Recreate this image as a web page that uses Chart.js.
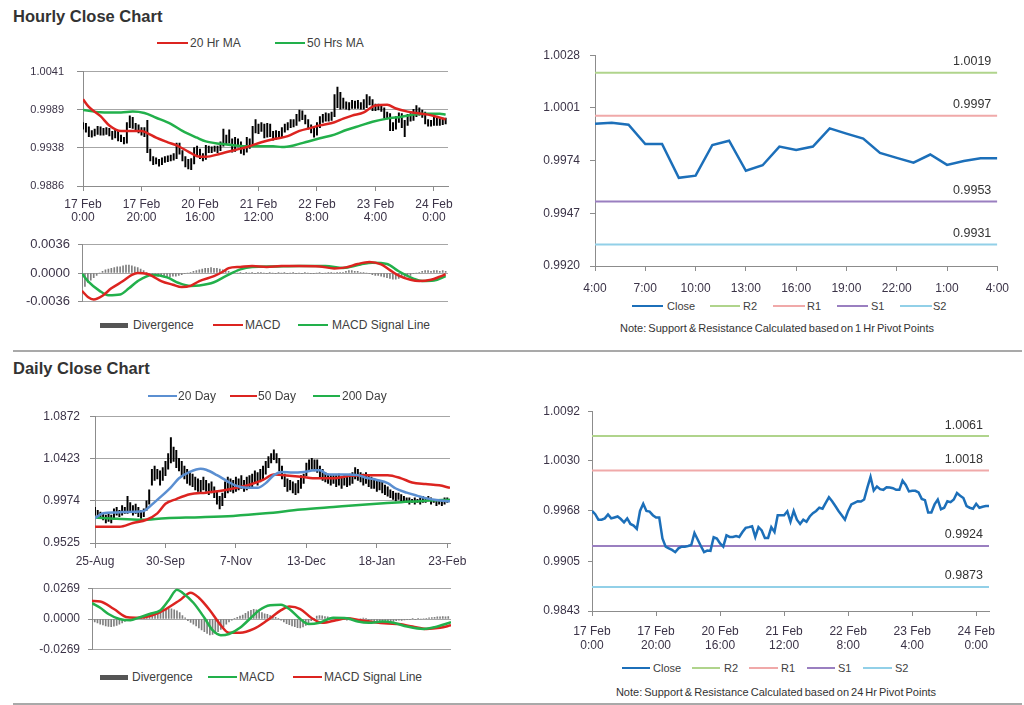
<!DOCTYPE html>
<html><head><meta charset="utf-8">
<script src="https://cdn.jsdelivr.net/npm/chart.js@4.4.1/dist/chart.umd.min.js"></script>
<style>
body{margin:0;background:#fff;width:1024px;height:705px;overflow:hidden;position:relative;font-family:"Liberation Sans",Arial,sans-serif;color:#333}
.title{position:absolute;left:13px;font-weight:bold;font-size:16.5px;line-height:20px;color:#333;white-space:nowrap}
.sep{position:absolute;left:13px;width:1009px;height:2px;background:#a9a9a9}
.note{position:absolute;font-size:11px;line-height:14px;color:#333;white-space:nowrap;word-spacing:-1px;transform:translateX(-50%)}
</style></head><body>
<div class="title" style="top:6px">Hourly Close Chart</div>
<div class="sep" style="top:350px"></div>
<div class="title" style="top:358px">Daily Close Chart</div>
<div class="sep" style="top:703px"></div>
<div class="note" style="left:777px;top:321px">Note: Support &amp; Resistance Calculated based on 1 Hr Pivot Points</div>
<div class="note" style="left:776px;top:685px">Note: Support &amp; Resistance Calculated based on 24 Hr Pivot Points</div>
<script>
// ---------------- DATA ----------------
const hourTickLabels = [["17 Feb","0:00"],["17 Feb","20:00"],["20 Feb","16:00"],["21 Feb","12:00"],["22 Feb","8:00"],["23 Feb","4:00"],["24 Feb","0:00"]];
const hourTickIdx = [0,20,40,60,80,100,120];
const dayTickLabels = ["25-Aug","30-Sep","7-Nov","13-Dec","18-Jan","23-Feb"];
const dayTickIdx = [0,26,52,78,104,130];
const last24Labels = ["4:00","7:00","10:00","13:00","16:00","19:00","22:00","1:00","4:00"];
const last24TickIdx = [0,3,6,9,12,15,18,21,24];

const hourPriceTicks = ["0.9886","0.9938","0.9989","1.0041"];
const hourMacdTicks = ["-0.0036","0.0000","0.0036"];
const last24Ticks = ["0.9920","0.9947","0.9974","1.0001","1.0028"];
const dayPriceTicks = ["0.9525","0.9974","1.0423","1.0872"];
const dayMacdTicks = ["-0.0269","0.0000","0.0269"];
const hourCloseTicks = ["0.9843","0.9905","0.9968","1.0030","1.0092"];

const pivotNames = ["R2","R1","S1","S2"];
const hourPivots = [1.0019,0.9997,0.9953,0.9931];
const dayPivots = [1.0061,1.0018,0.9924,0.9873];

const last24Close = [0.99929,0.99934,0.99924,0.99825,0.99825,0.99652,0.99663,0.99820,0.99842,0.99688,0.99716,0.99812,0.99794,0.99812,0.99905,0.99878,0.99853,0.99779,0.99754,0.99729,0.99771,0.99718,0.99738,0.99752,0.99752];

const hourlyClose = [0.99677,0.99636,0.99568,0.99568,0.99584,0.99632,0.99584,0.99596,0.99608,0.99576,
 0.99535,0.99584,0.99515,0.99495,0.99454,0.99677,0.99766,0.99677,0.99669,0.99624,
 0.99596,0.99596,0.99333,0.99232,0.99211,0.99191,0.99163,0.99211,0.99232,0.99232,
 0.99240,0.99252,0.99402,0.99321,0.99240,0.99163,0.99183,0.99179,0.99349,0.99333,
 0.99272,0.99232,0.99373,0.99353,0.99353,0.99365,0.99353,0.99414,0.99466,0.99475,
 0.99487,0.99353,0.99475,0.99434,0.99341,0.99341,0.99475,0.99414,0.99624,0.99624,
 0.99624,0.99673,0.99543,0.99677,0.99568,0.99515,0.99568,0.99543,0.99608,0.99649,
 0.99677,0.99717,0.99705,0.99778,0.99847,0.99798,0.99738,0.99677,0.99624,0.99568,
 0.99677,0.99758,0.99778,0.99798,0.99794,0.99819,0.99968,1.00102,0.99932,0.99981,
 0.99948,0.99940,0.99973,0.99968,0.99960,0.99940,0.99940,1.00054,1.00001,0.99920,
 0.99928,0.99928,0.99908,0.99827,0.99811,0.99657,0.99657,0.99758,0.99819,0.99697,
 0.99717,0.99798,0.99786,0.99819,0.99900,0.99867,0.99839,0.99738,0.99717,0.99705,
 0.99766,0.99717,0.99730,0.99738,0.99738];
const hourlyLow = [0.9963,0.9959,0.9953,0.9952,0.9954,0.9956,0.9955,0.9955,0.9956,0.9954,
 0.9949,0.9951,0.9947,0.9946,0.9943,0.9944,0.9965,0.9964,0.9962,0.9958,
 0.9955,0.9953,0.9931,0.9920,0.9915,0.9916,0.9913,0.9915,0.9918,0.9919,
 0.9920,0.9921,0.9923,0.9929,0.9920,0.9912,0.9909,0.9908,0.9916,0.9928,
 0.9923,0.9920,0.9922,0.9931,0.9931,0.9933,0.9931,0.9934,0.9940,0.9943,
 0.9944,0.9932,0.9933,0.9939,0.9930,0.9928,0.9932,0.9937,0.9940,0.9958,
 0.9957,0.9960,0.9951,0.9952,0.9953,0.9948,0.9949,0.9950,0.9952,0.9959,
 0.9962,0.9965,0.9966,0.9968,0.9974,0.9976,0.9970,0.9963,0.9958,0.9952,
 0.9955,0.9965,0.9972,0.9974,0.9974,0.9975,0.9980,0.9992,0.9990,0.9991,
 0.9990,0.9989,0.9991,0.9991,0.9991,0.9990,0.9990,0.9992,0.9996,0.9988,
 0.9988,0.9989,0.9987,0.9978,0.9977,0.9961,0.9961,0.9963,0.9972,0.9965,
 0.9953,0.9968,0.9974,0.9975,0.9980,0.9982,0.9979,0.9970,0.9967,0.9967,
 0.9968,0.9968,0.9968,0.9969,0.9970];
const hourlyHigh = [0.9972,0.9971,0.9966,0.9961,0.9963,0.9967,0.9966,0.9964,0.9965,0.9964,
 0.9960,0.9962,0.9961,0.9955,0.9952,0.9972,0.9981,0.9979,0.9971,0.9969,
 0.9965,0.9965,0.9975,0.9936,0.9926,0.9924,0.9922,0.9924,0.9926,0.9927,
 0.9928,0.9930,0.9944,0.9944,0.9934,0.9926,0.9922,0.9923,0.9938,0.9940,
 0.9936,0.9930,0.9941,0.9940,0.9939,0.9940,0.9940,0.9946,0.9963,0.9955,
 0.9962,0.9950,0.9952,0.9950,0.9946,0.9939,0.9952,0.9950,0.9967,0.9976,
 0.9970,0.9972,0.9970,0.9971,0.9970,0.9960,0.9961,0.9960,0.9965,0.9970,
 0.9972,0.9976,0.9976,0.9983,0.9989,0.9988,0.9982,0.9976,0.9969,0.9964,
 0.9972,0.9980,0.9983,0.9985,0.9984,0.9986,1.0010,1.0020,1.0013,1.0005,
 1.0000,0.9999,1.0002,1.0001,1.0002,0.9999,1.0003,1.0010,1.0007,1.0003,
 0.9997,0.9997,0.9996,0.9992,0.9986,0.9984,0.9972,0.9980,0.9985,0.9984,
 0.9975,0.9983,0.9984,0.9990,0.9995,0.9992,0.9989,0.9986,0.9976,0.9975,
 0.9980,0.9978,0.9977,0.9978,0.9978];

const hourMA20Idx = [0,2,6,9,13,15,20,22,25,29,32,36,39,42,47,52,56,61,65,70,74,78,81,86,89,92,96,98,100,104,107,111,114,118,121,124];
const hourMA20 = [1.00035,0.99931,0.99806,0.99681,0.99606,0.99606,0.99606,0.99577,0.99514,0.99452,0.99410,0.99327,0.99264,0.99256,0.99298,0.99348,0.99389,0.99452,0.99493,0.99535,0.99606,0.99648,0.99681,0.99723,0.99773,0.99814,0.99856,0.99910,0.99952,0.99960,0.99910,0.99868,0.99848,0.99827,0.99798,0.99764];
const hourMA50Idx = [0,6,13,17,21,25,30,34,39,42,47,52,56,61,65,68,72,77,81,86,90,95,99,104,109,113,118,122,124];
const hourMA50 = [0.99889,0.99860,0.99856,0.99868,0.99848,0.99785,0.99702,0.99606,0.99514,0.99464,0.99431,0.99410,0.99398,0.99398,0.99398,0.99389,0.99410,0.99464,0.99506,0.99556,0.99619,0.99681,0.99731,0.99773,0.99798,0.99827,0.99839,0.99839,0.99827];

const hourMacdIdx = [0,2,4,7,10,14,17,19,22,24,27,31,34,37,40,45,48,50,54,58,63,68,74,81,86,90,94,98,102,105,108,112,115,119,122,124];
const hourMacd = [-0.00228,-0.00305,-0.00337,-0.0029,-0.00196,-0.00103,-0.00025,0.0,-0.0001,-0.0004,-0.00103,-0.0015,-0.0018,-0.00165,-0.00103,-0.0004,0.00016,0.00062,0.00078,0.0009,0.00078,0.0009,0.0009,0.00084,0.00059,0.00072,0.00115,0.0014,0.00109,0.00037,-0.00034,-0.00087,-0.00103,-0.00087,-0.00047,-0.00016];
const hourSignalIdx = [0,2,6,9,13,16,19,24,29,33,37,40,45,49,54,58,65,74,83,89,95,99,104,108,113,116,120,124];
const hourSignal = [-0.0001,-0.00103,-0.00228,-0.00284,-0.00274,-0.00196,-0.00103,-0.00025,-0.00056,-0.00128,-0.00165,-0.00159,-0.00118,-0.0004,0.00047,0.00078,0.00084,0.0009,0.0009,0.00065,0.00109,0.00131,0.00115,0.00022,-0.00072,-0.00103,-0.00097,-0.0004];
const hourDivergence = [-0.0019,-0.0017,-0.0012,-0.0009,-0.0006,-0.0003,0.0000,0.0002,0.0004,0.0005,
 0.0006,0.0007,0.0008,0.0008,0.0009,0.0010,0.0010,0.0009,0.0008,0.0007,
 0.0005,0.0003,0.0001,-0.0001,-0.0002,-0.0003,-0.0004,-0.0004,-0.0005,-0.0005,
 -0.0005,-0.0004,-0.0004,-0.0003,-0.0002,-0.0001,0.0000,0.0001,0.0002,0.0003,
 0.0004,0.0005,0.0006,0.0006,0.0007,0.0006,0.0006,0.0005,0.0004,0.0003,
 0.0002,0.0001,0.0001,0.0000,0.0001,-0.0001,0.0001,0.0000,0.0001,-0.0001,
 0.0001,0.0001,0.0000,-0.0001,0.0001,0.0000,-0.0001,0.0001,0.0000,0.0001,
 -0.0001,0.0000,0.0001,-0.0001,0.0000,-0.0001,0.0001,0.0000,-0.0001,-0.0001,
 0.0000,0.0001,-0.0001,0.0000,0.0001,0.0001,0.0000,0.0001,0.0001,0.0001,
 0.0002,0.0003,0.0003,0.0002,0.0002,0.0001,0.0001,0.0000,-0.0001,-0.0002,
 -0.0003,-0.0003,-0.0004,-0.0005,-0.0006,-0.0007,-0.0008,-0.0008,-0.0007,-0.0006,
 -0.0005,-0.0004,-0.0003,-0.0001,0.0000,0.0001,0.0002,0.0003,0.0003,0.0002,
 0.0003,0.0003,0.0002,0.0003,0.0002];

const dailyLow = [0.9821,0.9804,0.9787,0.9771,0.9737,0.9754,0.9737,0.9787,0.9821,0.9804,
 0.9821,0.9838,0.9838,0.9854,0.9821,0.9838,0.9804,0.9787,0.9804,0.9871,
 0.9938,1.0140,1.0190,1.0207,1.0140,1.0190,1.0241,1.0308,1.0375,1.0392,
 1.0325,1.0291,1.0241,1.0207,1.0157,1.0140,1.0123,1.0090,1.0073,1.0056,
 1.0090,1.0073,1.0039,1.0056,1.0006,0.9938,0.9888,0.9922,1.0006,1.0056,
 1.0073,1.0056,1.0073,1.0090,1.0106,1.0073,1.0090,1.0106,1.0123,1.0157,
 1.0140,1.0174,1.0207,1.0257,1.0325,1.0375,1.0409,1.0375,1.0291,1.0207,
 1.0123,1.0073,1.0090,1.0056,1.0039,1.0056,1.0106,1.0157,1.0241,1.0291,
 1.0308,1.0291,1.0274,1.0224,1.0190,1.0174,1.0157,1.0140,1.0157,1.0123,
 1.0140,1.0106,1.0140,1.0123,1.0140,1.0157,1.0207,1.0190,1.0174,1.0140,
 1.0157,1.0123,1.0106,1.0106,1.0073,1.0090,1.0056,1.0039,1.0022,1.0006,
 0.9989,0.9972,0.9989,0.9972,0.9955,0.9955,0.9938,0.9955,0.9938,0.9955,
 0.9938,0.9955,0.9955,0.9972,0.9938,0.9955,0.9922,0.9938,0.9922,0.9938,
 0.9955];
const dailyHigh = [0.9905,0.9871,0.9854,0.9838,0.9821,0.9838,0.9821,0.9888,0.9905,0.9871,
 0.9922,0.9905,1.0022,0.9955,0.9922,0.9938,0.9905,0.9871,0.9888,0.9972,
 1.0090,1.0308,1.0341,1.0308,1.0291,1.0325,1.0392,1.0476,1.0644,1.0543,
 1.0509,1.0425,1.0392,1.0341,1.0308,1.0274,1.0257,1.0224,1.0207,1.0190,
 1.0224,1.0190,1.0157,1.0174,1.0123,1.0073,1.0022,1.0056,1.0174,1.0224,
 1.0207,1.0190,1.0224,1.0207,1.0241,1.0190,1.0224,1.0241,1.0257,1.0291,
 1.0274,1.0308,1.0341,1.0392,1.0442,1.0476,1.0516,1.0476,1.0425,1.0341,
 1.0257,1.0207,1.0190,1.0174,1.0157,1.0190,1.0241,1.0257,1.0375,1.0409,
 1.0425,1.0409,1.0409,1.0341,1.0308,1.0274,1.0257,1.0241,1.0241,1.0241,
 1.0257,1.0224,1.0241,1.0224,1.0257,1.0274,1.0325,1.0308,1.0274,1.0257,
 1.0274,1.0241,1.0224,1.0207,1.0190,1.0190,1.0174,1.0140,1.0123,1.0090,
 1.0073,1.0056,1.0056,1.0039,1.0022,1.0006,1.0006,0.9989,1.0006,0.9989,
 1.0006,1.0022,1.0006,1.0022,1.0006,0.9989,0.9989,0.9972,0.9989,1.0006,
 1.0006];

const dayMA20Idx = [0,3,8,14,18,20,24,28,31,35,39,41,45,49,52,56,60,63,66,69,73,77,81,83,86,89,93,97,100,104,108,111,115,119,122,126,131];
const dayMA20 = [0.9789,0.9840,0.9850,0.9857,0.9864,0.9908,1.0009,1.0117,1.0212,1.0280,1.0314,1.0303,1.0246,1.0178,1.0134,1.0111,1.0111,1.0161,1.0246,1.0280,1.0273,1.0280,1.0297,1.0297,1.0253,1.0253,1.0253,1.0246,1.0219,1.0195,1.0161,1.0104,1.0060,1.0026,1.0002,0.9982,0.9968];
const dayMA50Idx = [0,9,14,19,23,26,30,35,41,46,51,57,62,66,69,76,82,88,94,100,108,113,117,122,127,131];
const dayMA50 = [0.9698,0.9698,0.9738,0.9772,0.9840,0.9941,0.9992,1.0043,1.0060,1.0077,1.0104,1.0144,1.0195,1.0253,1.0246,1.0229,1.0212,1.0212,1.0239,1.0246,1.0246,1.0212,1.0168,1.0151,1.0138,1.0111];
const dayMA200Idx = [0,8,17,26,39,51,63,76,88,100,113,122,131];
const dayMA200 = [0.9796,0.9782,0.9772,0.9789,0.9799,0.9813,0.9840,0.9880,0.9908,0.9935,0.9958,0.9975,0.9985];

const dayMacdIdx = [0,3,6,10,14,17,21,25,28,31,33,37,41,44,47,50,54,58,61,65,69,72,76,79,83,88,93,97,101,106,110,115,121,125,131];
const dayMacd = [0.0138,0.0098,0.0044,0.0,-0.0011,0.0011,0.0044,0.0077,0.0164,0.0256,0.0230,0.0142,0.0011,-0.0098,-0.0142,-0.0131,-0.0077,0.0011,0.0077,0.0120,0.0125,0.0087,0.0,-0.0044,-0.0033,0.0011,0.0007,-0.0022,-0.0033,-0.0022,-0.0033,-0.0066,-0.0087,-0.0072,-0.0028];
const daySignalIdx = [0,3,8,13,17,22,27,32,36,39,43,47,50,54,59,64,69,72,76,80,84,89,93,98,103,108,112,117,122,127,131];
const daySignal = [0.0157,0.0153,0.0087,0.0015,0.0011,0.0033,0.0087,0.0164,0.0230,0.0186,0.0077,-0.0055,-0.0120,-0.0120,-0.0087,-0.0011,0.0077,0.0109,0.0087,0.0011,-0.0033,-0.0011,0.0007,-0.0011,-0.0028,-0.0039,-0.0044,-0.0066,-0.0087,-0.0077,-0.0055];
const dayDivergence = [-0.0010,-0.0025,-0.0035,-0.0045,-0.0052,-0.0060,-0.0064,-0.0066,-0.0062,-0.0055,
 -0.0045,-0.0035,-0.0022,-0.0010,-0.0004,0.0003,0.0008,0.0012,0.0018,0.0022,
 0.0028,0.0030,0.0035,0.0040,0.0048,0.0055,0.0065,0.0078,0.0090,0.0088,
 0.0080,0.0072,0.0055,0.0030,0.0010,-0.0015,-0.0030,-0.0045,-0.0060,-0.0078,
 -0.0095,-0.0110,-0.0125,-0.0140,-0.0135,-0.0125,-0.0110,-0.0090,-0.0070,-0.0045,
 -0.0025,-0.0010,0.0005,0.0015,0.0025,0.0035,0.0050,0.0065,0.0075,0.0085,
 0.0080,0.0065,0.0055,0.0045,0.0040,0.0030,0.0025,0.0015,0.0005,-0.0010,
 -0.0025,-0.0040,-0.0050,-0.0060,-0.0068,-0.0075,-0.0077,-0.0070,-0.0055,-0.0035,
 -0.0015,0.0005,0.0025,0.0030,0.0028,0.0022,0.0018,0.0012,0.0008,0.0005,
 0.0002,-0.0003,-0.0006,-0.0010,-0.0008,-0.0012,-0.0010,-0.0006,0.0004,0.0008,
 0.0003,-0.0005,-0.0010,-0.0015,-0.0020,-0.0022,-0.0018,-0.0015,-0.0020,-0.0025,
 -0.0022,-0.0015,-0.0010,-0.0012,-0.0008,-0.0005,-0.0003,0.0002,-0.0002,0.0003,
 0.0000,0.0004,0.0006,0.0010,0.0012,0.0015,0.0018,0.0020,0.0022,0.0020,
 0.0022];

// ---------------- STYLE / HELPERS ----------------
const FONT = '"Liberation Sans", Arial, sans-serif';
const TICK_COLOR = '#3b3347', AXIS = '#8c8c8c', GRID = '#a6a6a6';
const RED = '#dc2420', GREEN = '#22b04b', BLUE = '#5b8fd1', CLOSE = '#1c6fb9', DIV = '#7f7f7f';
const PIV_COLORS = ['#b0d48c','#f0a9a9','#9a7fc0','#92d0e8'];

function yAxis(labels, yw, size, gridOn, tickLen, pad) {
  const vals = labels.map(parseFloat);
  return { type:'linear', bounds:'data', min: vals[0], max: vals[vals.length-1],
    afterBuildTicks: s => { s.ticks = vals.map(v => ({value: v})); },
    afterFit: s => { s.width = yw; },
    ticks: { callback: (v, i) => labels[i], color: TICK_COLOR, font: {family: FONT, size}, padding: pad, autoSkip: false },
    grid: { drawOnChartArea: gridOn, color: GRID, lineWidth: 1, drawTicks: true, tickLength: tickLen, tickColor: AXIS },
    border: { display: true, color: AXIS, width: 1 } };
}
function xAxis(idx, labels, max, xh, size, pad, lh) {
  return { type:'linear', bounds:'data', min: 0, max, offset: false,
    afterBuildTicks: s => { s.ticks = idx.map(v => ({value: v})); },
    afterFit: s => { s.height = xh; },
    ticks: { callback: (v, i) => labels[i], color: TICK_COLOR, font: {family: FONT, size, lineHeight: lh}, padding: pad, autoSkip: false, maxRotation: 0, minRotation: 0 },
    grid: { offset: false, drawOnChartArea: false, drawTicks: true, tickLength: 5, tickColor: AXIS, color: AXIS },
    border: { display: true, color: AXIS, width: 1 } };
}
function hiddenX(max) { return { type:'linear', bounds:'data', min: 0, max, offset: false, display: false, grid: {offset: false} }; }

function mk(plot, yw, padTop, xh, padRight, noX, type, datasets, scales, plugins) {
  const c = document.createElement('canvas');
  const w = yw + plot.r - plot.l + padRight, h = padTop + plot.b - plot.t + xh;
  c.width = w; c.height = h;
  c.style.cssText = `position:absolute;left:${plot.l - yw}px;top:${plot.t - padTop}px;width:${w}px;height:${h}px;`;
  document.body.appendChild(c);
  return new Chart(c, { type, data: {datasets}, plugins: plugins || [],
    options: { responsive: false, maintainAspectRatio: false, animation: false, devicePixelRatio: 1, events: [],
      layout: { autoPadding: false, padding: {top: padTop, right: padRight, left: 0, bottom: noX ? xh : 0} },
      plugins: { legend: {display: false}, tooltip: {enabled: false} }, scales } });
}
const pts = (xs, ys) => xs.map((x, i) => ({x, y: ys[i]}));
const seq = ys => ys.map((y, i) => ({x: i, y}));
function line(data, color, width, order, smooth) {
  return { type: 'line', data, borderColor: color, borderWidth: width, pointRadius: 0, fill: false, order,
    tension: smooth ? 0.4 : 0, cubicInterpolationMode: smooth ? 'monotone' : 'default' };
}
function bars(data, color, thick, order) {
  return { type: 'bar', data, backgroundColor: color, borderWidth: 0, barThickness: thick, order, grouped: false };
}
const pivotLabels = { id: 'pivotLabels', afterDatasetsDraw(chart) {
  const {ctx, chartArea, scales} = chart; ctx.save();
  ctx.font = '12.5px ' + FONT; ctx.fillStyle = '#333'; ctx.textAlign = 'right'; ctx.textBaseline = 'middle';
  chart.data.datasets.forEach(ds => { if (ds.pivotValue !== undefined) {
    ctx.fillText(ds.pivotValue.toFixed(4), chartArea.right - 6, scales.y.getPixelForValue(ds.pivotValue) - 11); } });
  ctx.restore(); } };
function pivotSets(vals, maxX) {
  return vals.map((v, k) => Object.assign(line([{x: 0, y: v}, {x: maxX, y: v}], PIV_COLORS[k], 2, 5 + k, false), {pivotValue: v, label: pivotNames[k]}));
}
function legend(y, items) {
  items.forEach(([sx, sw, sh, color, tx, text, fs]) => {
    const s = document.createElement('div');
    s.style.cssText = `position:absolute;left:${sx}px;top:${y - sh / 2}px;width:${sw}px;height:${sh}px;background:${color}`;
    document.body.appendChild(s);
    const t = document.createElement('div'); t.textContent = text;
    t.style.cssText = `position:absolute;left:${tx}px;top:${y - 8}px;font-size:${fs}px;font-family:${FONT};line-height:16px;color:#404040;white-space:nowrap`;
    document.body.appendChild(t);
  });
}

// ---------------- HOURLY PRICE ----------------
mk({l:83, t:62, r:448, b:186}, 75, 10, 40, 22, false, 'bar', [
  bars(hourlyLow.map((lo, i) => ({x: i, y: [lo, hourlyHigh[i]]})), '#000', 1.3, 3),
  line(pts(hourMA50Idx, hourMA50), GREEN, 2.5, 2, true),
  line(pts(hourMA20Idx, hourMA20), RED, 2.5, 1, true)
], { x: xAxis(hourTickIdx, hourTickLabels, 124.8, 40, 12, 7, 1.1), y: yAxis(hourPriceTicks, 75, 11, true, 6, 13) });
legend(43, [[157,31,2,RED,190,'20 Hr MA',12],[275,30,2,GREEN,307,'50 Hrs MA',12]]);

// ---------------- HOURLY MACD ----------------
mk({l:82, t:237, r:448, b:315}, 70, 8, 2, 20, true, 'bar', [
  bars(seq(hourDivergence), DIV, 1, 3),
  line(pts(hourSignalIdx, hourSignal), GREEN, 2.5, 2, true),
  line(pts(hourMacdIdx, hourMacd), RED, 2.5, 1, true)
], { x: hiddenX(124.8), y: yAxis(hourMacdTicks, 70, 13, true, 4, 8) });
legend(325, [[100,28,5,'#555',133,'Divergence',12],[213,30,2,RED,245,'MACD',12],[298,30,2,GREEN,332,'MACD Signal Line',12]]);

// ---------------- LAST 24 HOURS (1 Hr pivots) ----------------
mk({l:595, t:48, r:999, b:266}, 65, 10, 30, 20, false, 'line', [
  ...pivotSets(hourPivots, 24),
  Object.assign(line(seq(last24Close), CLOSE, 2.5, 1, false), {label: 'Close'})
], { x: xAxis(last24TickIdx, last24Labels, 24, 30, 12, 10, 1.2), y: yAxis(last24Ticks, 65, 12, false, 5, 10) }, [pivotLabels]);
legend(306, [[632,31,2.5,CLOSE,667,'Close',11],[710,30,1.5,PIV_COLORS[0],743,'R2',11],[773,32,1.5,PIV_COLORS[1],807,'R1',11],[837,31,1.5,PIV_COLORS[2],871,'S1',11],[900,32,1.5,PIV_COLORS[3],933,'S2',11]]);

// ---------------- DAILY PRICE ----------------
mk({l:95, t:409, r:450, b:543}, 75, 10, 30, 24, false, 'bar', [
  bars(dailyLow.map((lo, i) => ({x: i, y: [lo, dailyHigh[i]]})), '#000', 1.3, 4),
  line(pts(dayMA200Idx, dayMA200), GREEN, 2.5, 3, true),
  line(pts(dayMA50Idx, dayMA50), RED, 2.5, 2, true),
  line(pts(dayMA20Idx, dayMA20), BLUE, 2.5, 1, true)
], { x: xAxis(dayTickIdx, dayTickLabels, 131, 30, 12, 6, 1.2), y: yAxis(dayPriceTicks, 75, 12, true, 5, 10) });
legend(396, [[148,29,2,BLUE,178,'20 Day',12],[230,27,2,RED,258,'50 Day',12],[313,27,2,GREEN,342,'200 Day',12]]);

// ---------------- DAILY MACD ----------------
mk({l:92, t:581, r:451, b:663}, 72, 8, 2, 20, true, 'bar', [
  bars(seq(dayDivergence), DIV, 1, 3),
  line(pts(daySignalIdx, daySignal), RED, 2.5, 2, true),
  line(pts(dayMacdIdx, dayMacd), GREEN, 2.5, 1, true)
], { x: hiddenX(131), y: yAxis(dayMacdTicks, 72, 12, true, 4, 8) });
legend(677, [[100,28,5,'#555',132,'Divergence',12],[208,29,2,GREEN,239,'MACD',12],[293,29,2,RED,324,'MACD Signal Line',12]]);

// ---------------- HOURLY CLOSE (24 Hr pivots) ----------------
mk({l:592, t:406, r:989, b:611}, 62, 10, 45, 25, false, 'line', [
  ...pivotSets(dayPivots, 124),
  Object.assign(line(seq(hourlyClose), CLOSE, 2.5, 1, false), {label: 'Close'})
], { x: xAxis(hourTickIdx, hourTickLabels, 124, 45, 12, 9, 1.15), y: yAxis(hourCloseTicks, 62, 12, false, 4, 8) }, [pivotLabels]);
legend(668, [[622,28,2.5,CLOSE,653,'Close',11],[692,28,1.5,PIV_COLORS[0],724,'R2',11],[749,29,1.5,PIV_COLORS[1],781,'R1',11],[807,28,1.5,PIV_COLORS[2],838,'S1',11],[863,29,1.5,PIV_COLORS[3],895,'S2',11]]);
</script>
</body></html>
